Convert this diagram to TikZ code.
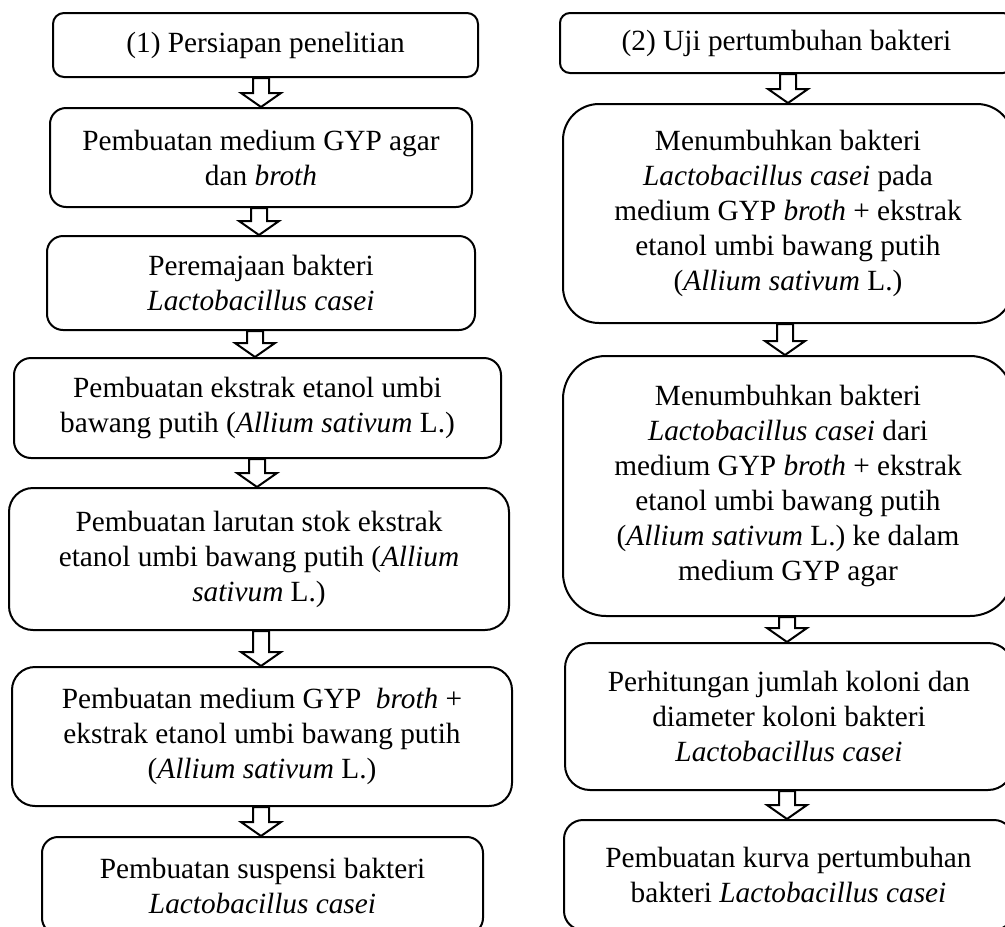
\documentclass[tikz,border=0pt]{standalone}
\usepackage{fontspec}
\setmainfont{Liberation Serif}
\usetikzlibrary{calc}
\tikzset{
  box/.style={draw, line width=2pt, fill=white, inner sep=0pt, align=center,
    font=\fontsize{29.3}{35}\selectfont},
  blk/.style={draw, line width=2pt, fill=white, line join=miter}
}
\newcommand\blockarrow[3]{%
  \draw[blk] let \p1=(#1.south), \p2=(#2.north) in
    ({(#3-8)*1pt},\y1) -- ({(#3+8)*1pt},\y1) -- ({(#3+8)*1pt},{\y2+14pt})
    -- ({(#3+20)*1pt},{\y2+14pt}) -- ({#3*1pt},\y2) -- ({(#3-20)*1pt},{\y2+14pt})
    -- ({(#3-8)*1pt},{\y2+14pt}) -- cycle;}
\begin{document}
\begin{tikzpicture}[x=1pt,y=-1pt]
\fill[white] (0,0) rectangle (1005,927);
\useasboundingbox (0,0) rectangle (1005,927);
% left column
\node[box, rounded corners=11pt, minimum width=425pt, minimum height=64pt] (l1) at (265.5,45) {(1) Persiapan penelitian};
\node[box, rounded corners=16pt, minimum width=422pt, minimum height=99pt] (l2) at (261,157.5) {Pembuatan medium GYP agar\\dan \textit{broth}};
\node[box, rounded corners=16pt, minimum width=428pt, minimum height=94pt] (l3) at (261,283) {Peremajaan bakteri\\\textit{Lactobacillus casei}};
\node[box, rounded corners=17pt, minimum width=487pt, minimum height=100pt] (l4) at (257.5,408) {Pembuatan ekstrak etanol umbi\\bawang putih (\textit{Allium sativum} L.)};
\node[box, rounded corners=24pt, minimum width=500pt, minimum height=142pt] (l5) at (259,559) {Pembuatan larutan stok ekstrak\\etanol umbi bawang putih (\textit{Allium}\\\textit{sativum} L.)};
\node[box, rounded corners=23pt, minimum width=500pt, minimum height=139pt] (l6) at (262,736.5) {Pembuatan medium GYP\ \ \textit{broth} +\\ekstrak etanol umbi bawang putih\\(\textit{Allium sativum} L.)};
\node[box, rounded corners=16pt, minimum width=441pt, minimum height=97pt] (l7) at (262.5,885.5) {Pembuatan suspensi bakteri\\\textit{Lactobacillus casei}};
% right column
\node[box, rounded corners=10pt, minimum width=453pt, minimum height=60pt] (r1) at (786.5,43) {(2) Uji pertumbuhan bakteri};
\node[box, rounded corners=36pt, minimum width=450pt, minimum height=219pt] (r2) at (788,213.5) {Menumbuhkan bakteri\\\textit{Lactobacillus casei} pada\\medium GYP \textit{broth} + ekstrak\\etanol umbi bawang putih\\(\textit{Allium sativum} L.)};
\node[box, rounded corners=43pt, minimum width=450pt, minimum height=260pt] (r3) at (788,486) {Menumbuhkan bakteri\\\textit{Lactobacillus casei} dari\\medium GYP \textit{broth} + ekstrak\\etanol umbi bawang putih\\(\textit{Allium sativum} L.) ke dalam\\medium GYP agar};
\node[box, rounded corners=25pt, minimum width=448pt, minimum height=147pt] (r4) at (789,716.5) {Perhitungan jumlah koloni dan\\diameter koloni bakteri\\\textit{Lactobacillus casei}};
\node[box, rounded corners=19pt, minimum width=449pt, minimum height=110pt] (r5) at (788.5,875) {Pembuatan kurva pertumbuhan\\bakteri \textit{Lactobacillus casei}};
% arrows
\blockarrow{l1}{l2}{261}
\blockarrow{l2}{l3}{259}
\blockarrow{l3}{l4}{255}
\blockarrow{l4}{l5}{257}
\blockarrow{l5}{l6}{261}
\blockarrow{l6}{l7}{261}
\blockarrow{r1}{r2}{788}
\blockarrow{r2}{r3}{785}
\blockarrow{r3}{r4}{787}
\blockarrow{r4}{r5}{787}
\end{tikzpicture}
\end{document}
